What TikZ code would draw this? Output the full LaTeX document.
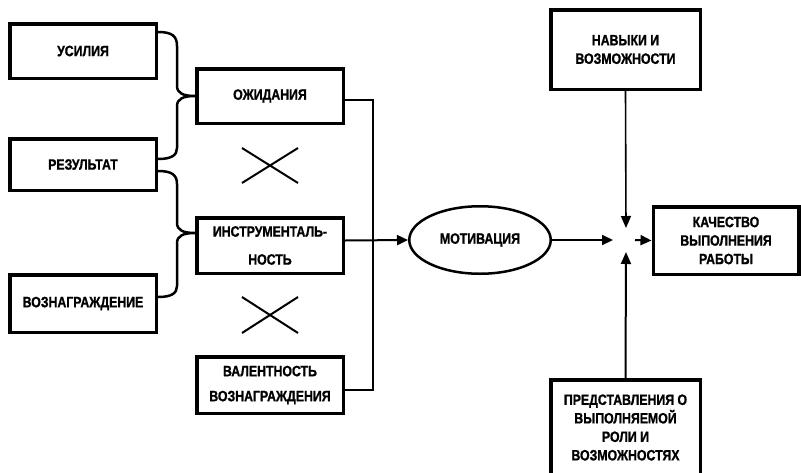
\documentclass[tikz,border=0pt]{standalone}
\usepackage{fontspec}
\setmainfont{Liberation Sans}[FakeStretch=0.82,FakeBold=1]
\usetikzlibrary{arrows.meta,shapes.geometric}
\begin{document}
\begin{tikzpicture}[x=1pt,y=-1pt,
  box/.style={draw, line width=3.5pt, align=center, inner sep=0pt,
    font=\fontsize{15}{18.5}\selectfont\bfseries},
  brace/.style={line width=2.5pt},
  wire/.style={line width=2.5pt},
  arr/.style={line width=2pt, -{Triangle[length=11pt,width=10pt]}},
  varr/.style={line width=1.6pt, -{Triangle[length=12pt,width=10pt]}},
  crossline/.style={line width=2pt}]
\useasboundingbox (0,0) rectangle (801,472);
\clip (0,0) rectangle (801,472);
% left column
\node[box, minimum width=146.5pt, minimum height=54.5pt] (usil) at (83,51) {УСИЛИЯ};
\node[box, minimum width=146.5pt, minimum height=51.5pt] (rez) at (83,164.5) {РЕЗУЛЬТАТ};
\node[box, minimum width=146.5pt, minimum height=57.5pt] (voz) at (83,303.5) {ВОЗНАГРАЖДЕНИЕ};
% middle column
\node[box, minimum width=146.5pt, minimum height=54.5pt] (ozh) at (270,96) {ОЖИДАНИЯ};
\node[box, minimum width=146.5pt, minimum height=55.5pt,
  font=\fontsize{15}{28}\selectfont\bfseries] (instr) at (270,245.5) {ИНСТРУМЕНТАЛЬ-\\НОСТЬ};
\node[box, minimum width=146.5pt, minimum height=56.5pt,
  font=\fontsize{15}{25}\selectfont\bfseries] (val) at (270,385) {ВАЛЕНТНОСТЬ\\ВОЗНАГРАЖДЕНИЯ};
% motivation
\node[draw, ellipse, line width=2.5pt, minimum width=141.5pt, minimum height=67.5pt,
  inner sep=0pt, font=\fontsize{15}{18}\selectfont\bfseries] (mot) at (480,240) {МОТИВАЦИЯ};
% right
\node[box, minimum width=149.5pt, minimum height=79.5pt] (nav) at (625.5,49.5) {НАВЫКИ И\\ВОЗМОЖНОСТИ};
\node[box, minimum width=145.5pt, minimum height=67.5pt] (kach) at (726,240.5) {КАЧЕСТВО\\ВЫПОЛНЕНИЯ\\РАБОТЫ};
\node[box, minimum width=149.5pt, minimum height=95.5pt] (pred) at (625.5,427.5) {ПРЕДСТАВЛЕНИЯ О\\ВЫПОЛНЯЕМОЙ\\РОЛИ И\\ВОЗМОЖНОСТЯХ};
% braces
\draw[brace] (158,32) .. controls (172,32) and (177,36) .. (177,46) -- (177,86)
  .. controls (177,93) and (183,96) .. (ozh.west)
  .. controls (183,96) and (177,99) .. (177,106) -- (177,148)
  .. controls (177,155) and (172,159) .. (158,159);
\draw[brace] (158,171) .. controls (172,171) and (177,175) .. (177,184) -- (177,223)
  .. controls (177,230) and (183,233) .. ([yshift=12.5pt]instr.west)
  .. controls (183,233) and (177,236) .. (177,243) -- (177,286)
  .. controls (177,293) and (172,297) .. (158,297);
% crosses
\draw[crossline] (242,148) -- (298,183) (242,183) -- (298,148);
\draw[crossline] (242,297) -- (298,333) (242,333) -- (298,297);
% bus
\coordinate (bus) at (373,240);
\draw[wire] ([yshift=-4pt]ozh.east) -| (bus);
\draw[wire] ([yshift=-5pt]val.east) -| (bus);
\draw[arr] ([yshift=5pt]instr.east) -- (mot.west);
% junction
\coordinate (j) at (626,240);
\draw[arr] (mot.east) -- ([xshift=-13pt]j);
\draw[arr] ([xshift=9pt]j) -- (kach.west);
\draw[varr] (nav.south) -- ([yshift=12pt]j);
\draw[varr, line width=2pt] (pred.north) -- ([yshift=-12pt]j);
\end{tikzpicture}
\end{document}
